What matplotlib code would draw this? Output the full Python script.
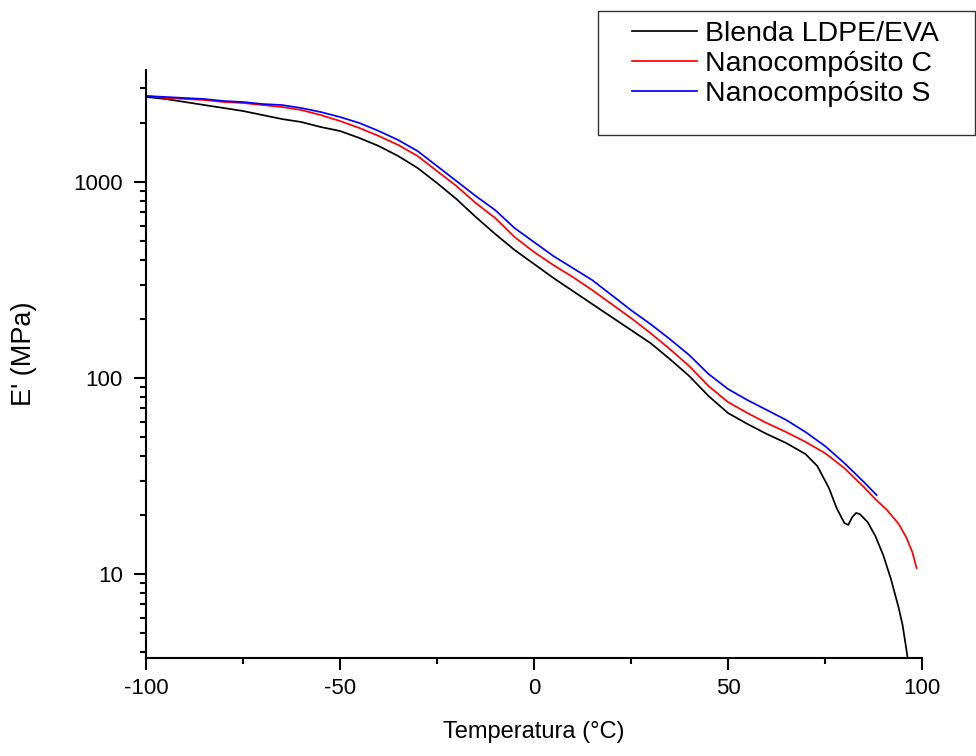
import matplotlib
matplotlib.use("Agg")
import matplotlib.pyplot as plt
from matplotlib.ticker import LogLocator, FixedLocator, FixedFormatter, NullFormatter, MultipleLocator
from matplotlib.patches import Rectangle

plt.rcParams['font.family'] = ['Liberation Sans', 'DejaVu Sans']

# Data
t_blend = [-100, -95, -90, -85, -80, -75, -70, -65, -60, -55, -50, -45, -40, -35, -30, -25,
           -20, -15, -10, -5, 0, 5, 10, 15, 20, 25, 30, 35, 40, 45, 50, 55, 60, 65, 70,
           73, 76, 78, 80, 81, 82, 83, 84, 86, 88, 90, 92, 94, 95, 96, 96.3]
e_blend = [2716, 2652, 2560, 2471, 2386, 2303, 2197, 2096, 2024, 1909, 1821, 1677, 1526,
           1357, 1179, 988, 819, 663, 543, 450, 382, 324, 278, 238.5, 204.7, 175.8, 150.9,
           125.0, 102.4, 80.9, 66.3, 58.3, 51.8, 46.6, 40.9, 35.6, 27.5, 21.7, 18.2, 17.8,
           19.5, 20.5, 20.2, 18.4, 15.6, 12.5, 9.43, 6.71, 5.49, 4.09, 3.73]

t_c = [-100, -95, -90, -85, -80, -75, -70, -65, -60, -55, -50, -45, -40, -35, -30, -25,
       -20, -15, -10, -5, 0, 5, 10, 15, 20, 25, 30, 35, 40, 45, 50, 55, 60, 65, 70, 75,
       80, 85, 88, 91, 94, 96, 97.5, 98.6]
e_c = [2747, 2683, 2652, 2621, 2560, 2530, 2471, 2414, 2330, 2197, 2048, 1886, 1717, 1545,
       1357, 1138, 954, 781, 655, 524, 439.5, 377, 327.6, 281, 238.5, 202.3, 169.7, 140.6,
       115.1, 91.0, 75.4, 66.3, 58.9, 53.0, 47.2, 41.4, 34.7, 27.8, 24.1, 21.2, 18.0, 15.3,
       12.95, 10.73]

t_s = [-100, -95, -90, -85, -80, -75, -70, -65, -60, -55, -50, -45, -40, -35, -30, -25,
       -20, -15, -10, -5, 0, 5, 10, 15, 20, 25, 30, 35, 40, 45, 50, 55, 60, 65, 70, 75,
       80, 85, 88.3]
e_s = [2747, 2716, 2683, 2652, 2590, 2560, 2500, 2471, 2386, 2276, 2146, 2000, 1821, 1638,
       1439, 1207, 1012, 848, 719, 582, 494, 419, 364, 316, 265, 222, 188.6, 158.1, 131.0,
       104.8, 87.9, 77.2, 68.7, 61.1, 53.0, 45.0, 36.8, 29.5, 25.3]

labels = ["Blenda LDPE/EVA", "Nanocompósito C", "Nanocompósito S"]
colors = ["#000000", "#ff0000", "#0000ff"]

x_ticks = [-100, -50, 0, 50, 100]
y_ticks = [10, 100, 1000]

W, H = 976, 756
fig = plt.figure(figsize=(W / 100, H / 100), dpi=100)
ax = fig.add_axes([146 / W, 1 - 658 / H, (922 - 146) / W, (658 - 70) / H])

lines = []
for t, e, c, lab in zip([t_blend, t_c, t_s], [e_blend, e_c, e_s], colors, labels):
    ln, = ax.plot(t, e, color=c, lw=1.25, label=lab)
    lines.append(ln)

ax.set_yscale('log')
ax.set_xlim(-100, 100)
ax.set_ylim(3.73, 3728)

ax.xaxis.set_major_locator(FixedLocator(x_ticks))
ax.set_xticklabels([str(v) for v in x_ticks])
ax.xaxis.set_minor_locator(MultipleLocator(25))
ax.yaxis.set_major_locator(FixedLocator(y_ticks))
ax.yaxis.set_major_formatter(FixedFormatter([str(v) for v in y_ticks]))
ax.yaxis.set_minor_locator(LogLocator(base=10, subs=range(2, 10), numticks=20))
ax.yaxis.set_minor_formatter(NullFormatter())

for s in ['top', 'right']:
    ax.spines[s].set_visible(False)
for s in ['left', 'bottom']:
    ax.spines[s].set_linewidth(1.5)

ax.tick_params(which='major', direction='out', length=8.6, width=1.5, labelsize=16, pad=6)
ax.tick_params(which='minor', direction='out', length=4.6, width=1.5)
ax.tick_params(axis='y', which='major', pad=8)

ax.set_xlabel("Temperatura (°C)", fontsize=17)
ax.xaxis.set_label_coords(0.5, (658 - 721) / 588)
ax.set_ylabel("E' (MPa)", fontsize=19.5)
ax.yaxis.set_label_coords((37 - 146) / 776, (658 - 354) / 588)

# legend frame
fig.patches.append(Rectangle((598 / W, 1 - 135 / H), (975 - 598) / W, (135 - 11) / H,
                             transform=fig.transFigure, fill=False, edgecolor='#333333',
                             lw=1.0, zorder=5))
fig.legend(handles=lines, labels=labels, loc='upper left',
           bbox_to_anchor=(632 / W, 1 - 21 / H), frameon=False, fontsize=20.5,
           handlelength=2.3, handletextpad=0.28, labelspacing=0.14, borderpad=0,
           borderaxespad=0)

fig.savefig("out.png", dpi=100)
